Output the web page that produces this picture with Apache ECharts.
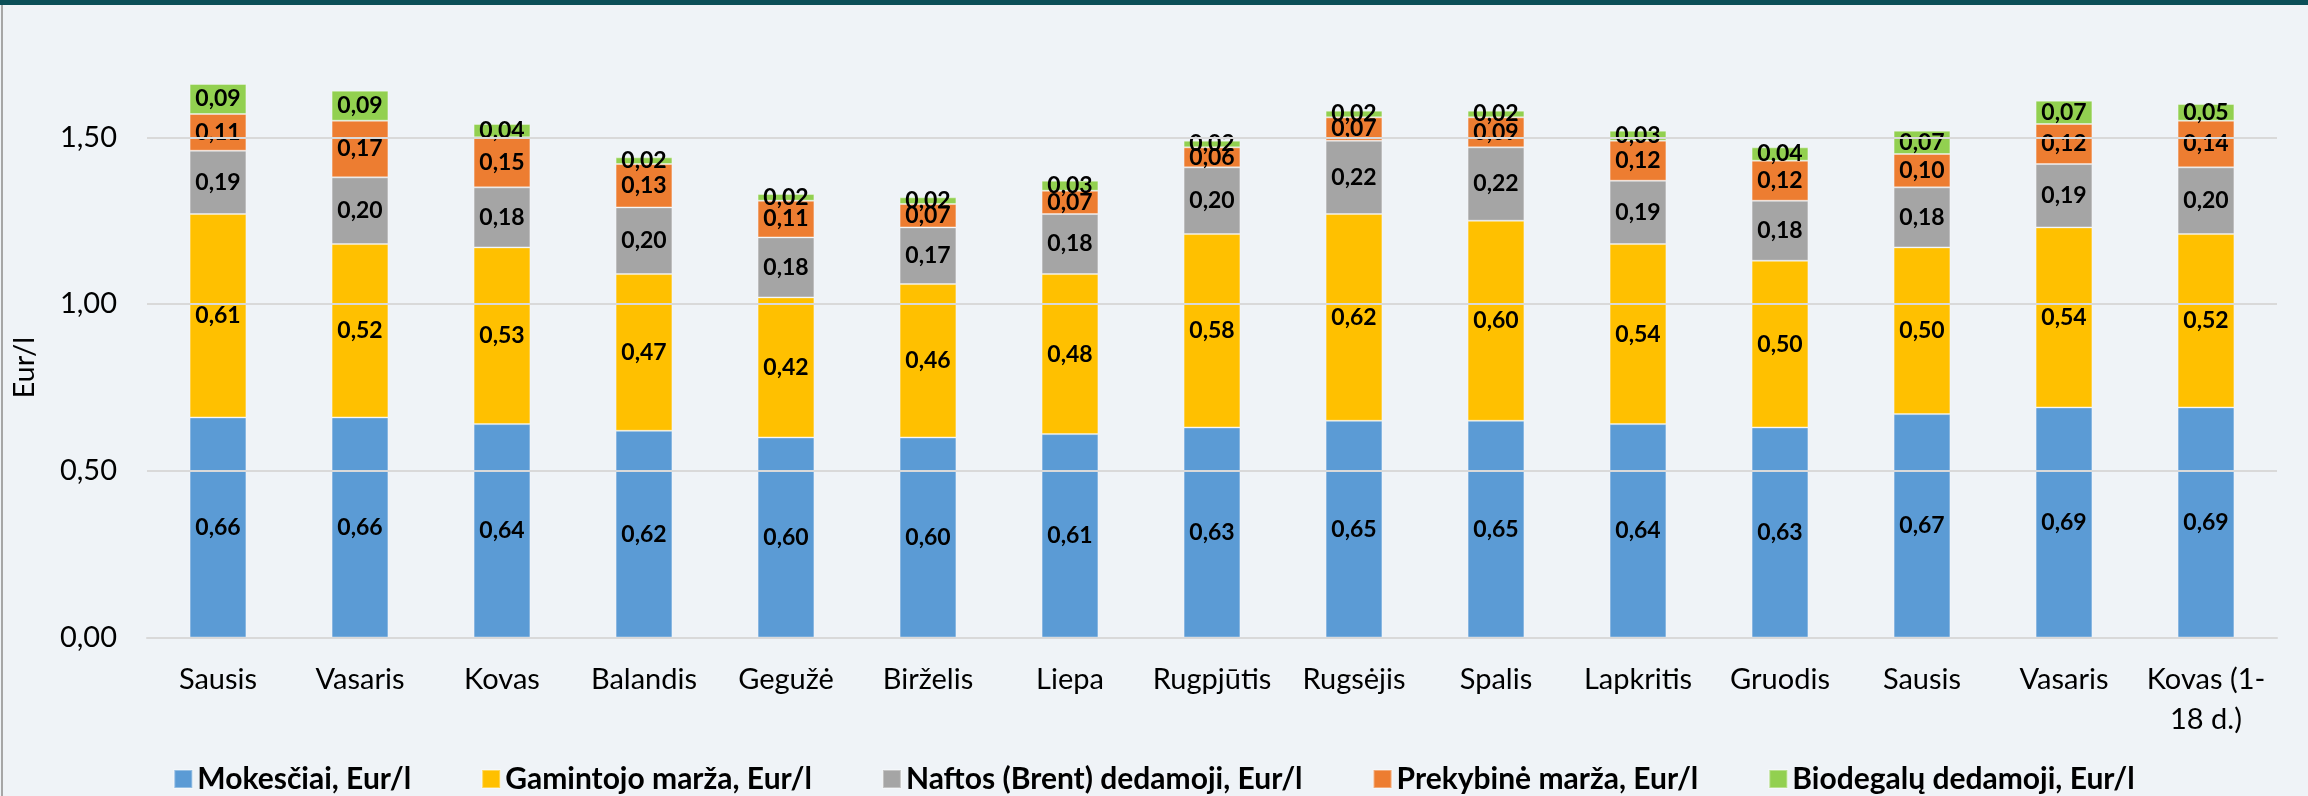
<!DOCTYPE html>
<html>
<head>
<meta charset="utf-8">
<script src="https://cdn.jsdelivr.net/npm/echarts@6/dist/echarts.min.js"></script>
<style>
  html, body { margin: 0; padding: 0; background: #eff3f7; }
  #wrap { position: relative; width: 2308px; height: 796px; overflow: hidden; background: #eff3f7; }
  #chart { position: absolute; left: 0; top: 0; width: 2308px; height: 796px; }
  #topband { position: absolute; left: 0; top: 0; width: 2308px; height: 5px; background: #0b4f58; }
  #leftline { position: absolute; left: 1px; top: 5px; width: 2px; height: 791px; background: #a6a6a6; }
</style>
</head>
<body>
<div id="wrap">
  <div id="chart"></div>
  <div id="topband"></div>
  <div id="leftline"></div>
</div>
<script>
const categories = ['Sausis', 'Vasaris', 'Kovas', 'Balandis', 'Gegužė', 'Birželis', 'Liepa', 'Rugpjūtis', 'Rugsėjis', 'Spalis', 'Lapkritis', 'Gruodis', 'Sausis', 'Vasaris', 'Kovas (1-\n18 d.)'];
const mokesciai = [0.66, 0.66, 0.64, 0.62, 0.60, 0.60, 0.61, 0.63, 0.65, 0.65, 0.64, 0.63, 0.67, 0.69, 0.69];
const gamintojo = [0.61, 0.52, 0.53, 0.47, 0.42, 0.46, 0.48, 0.58, 0.62, 0.60, 0.54, 0.50, 0.50, 0.54, 0.52];
const naftos = [0.19, 0.20, 0.18, 0.20, 0.18, 0.17, 0.18, 0.20, 0.22, 0.22, 0.19, 0.18, 0.18, 0.19, 0.20];
const prekybine = [0.11, 0.17, 0.15, 0.13, 0.11, 0.07, 0.07, 0.06, 0.07, 0.09, 0.12, 0.12, 0.10, 0.12, 0.14];
const biodegalu = [0.09, 0.09, 0.04, 0.02, 0.02, 0.02, 0.03, 0.02, 0.02, 0.02, 0.03, 0.04, 0.07, 0.07, 0.05];
const seriesNames = ['Mokesčiai, Eur/l', 'Gamintojo marža, Eur/l', 'Naftos (Brent) dedamoji, Eur/l', 'Prekybinė marža, Eur/l', 'Biodegalų dedamoji, Eur/l'];
const seriesColors = ['#5b9bd5', '#ffc000', '#a5a5a5', '#ed7d31', '#92d050'];
const gridValues = [0, 0.5, 1.0, 1.5];

const FONT = 'Lato, "Noto Sans", sans-serif';
const fmt = v => v.toFixed(2).replace('.', ',');

const chart = echarts.init(document.getElementById('chart'), null, { renderer: 'canvas' });
const seriesData = [mokesciai, gamintojo, naftos, prekybine, biodegalu];

const series = seriesData.map((d, i) => ({
  name: seriesNames[i],
  type: 'bar',
  stack: 'total',
  barWidth: '40%',
  z: 3,
  data: d,
  itemStyle: { color: seriesColors[i], borderColor: 'rgba(255,255,255,0.35)', borderWidth: 1 },
  label: {
    show: true,
    position: 'inside',
    formatter: p => fmt(p.value),
    color: '#000',
    fontFamily: FONT,
    fontWeight: 'bold',
    fontSize: 23
  },
  emphasis: { disabled: true }
}));

series.push({
  name: 'grid',
  type: 'line',
  data: [],
  z: 1,
  silent: true,
  markLine: {
    silent: true,
    symbol: 'none',
    animation: false,
    label: { show: false },
    lineStyle: { color: '#d9d9d9', width: 2, type: 'solid' },
    data: gridValues.map(v => ({ yAxis: v }))
  }
});

chart.setOption({
  animation: false,
  backgroundColor: 'transparent',
  grid: { left: 147, right: 31, top: 54, bottom: 158.5 },
  legend: {
    data: seriesNames,
    left: 'center',
    top: 759,
    icon: 'rect',
    itemWidth: 18,
    itemHeight: 18,
    itemGap: 70,
    textStyle: { fontFamily: FONT, fontWeight: 'bold', fontSize: 30, color: '#000' },
    selectedMode: false
  },
  xAxis: {
    type: 'category',
    data: categories,
    axisLine: { show: true, lineStyle: { color: '#d9d9d9', width: 2 } },
    axisTick: { show: false },
    axisLabel: {
      interval: 0,
      margin: 22,
      color: '#000',
      fontFamily: FONT,
      fontSize: 29,
      lineHeight: 40
    }
  },
  yAxis: {
    type: 'value',
    min: 0,
    max: 1.75,
    interval: 0.25,
    name: 'Eur/l',
    nameLocation: 'middle',
    nameGap: 108,
    nameRotate: 90,
    nameTextStyle: { fontFamily: FONT, fontSize: 29, color: '#000', padding: [0, 44, 0, 0] },
    axisLine: { show: false },
    axisTick: { show: false },
    splitLine: { show: false },
    axisLabel: {
      margin: 30,
      color: '#000',
      fontFamily: FONT,
      fontSize: 29,
      formatter: v => (Math.abs(v * 2 - Math.round(v * 2)) < 1e-6 ? fmt(v) : '')
    }
  },
  series: series
});
</script>
</body>
</html>
